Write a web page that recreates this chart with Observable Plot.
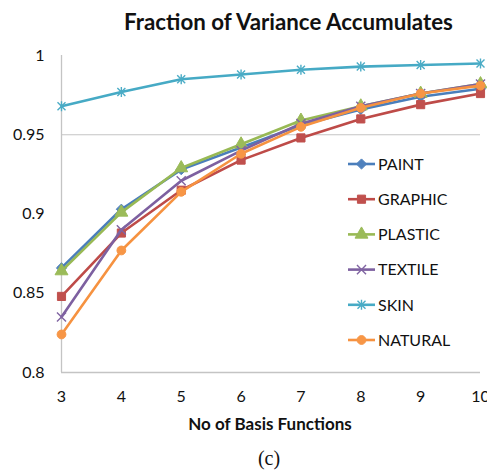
<!DOCTYPE html>
<html><head><meta charset="utf-8">
<script src="https://cdn.jsdelivr.net/npm/d3@7"></script>
<script src="https://cdn.jsdelivr.net/npm/@observablehq/plot@0.6"></script>
<style>
body{margin:0;background:#fff;}
#wrap{position:relative;width:487px;height:470px;overflow:hidden;background:#fff}
#wrap svg{position:absolute;left:0;top:0}
</style>
</head><body>
<div id="wrap"></div>
<script>
// ---- data ----
const basisFunctions = [3, 4, 5, 6, 7, 8, 9, 10];
const seriesNames = ["PAINT", "GRAPHIC", "PLASTIC", "TEXTILE", "SKIN", "NATURAL"];
const paint   = [0.866, 0.903, 0.928, 0.942, 0.956, 0.966, 0.974, 0.979];
const graphic = [0.848, 0.888, 0.915, 0.934, 0.948, 0.960, 0.969, 0.976];
const plastic = [0.864, 0.901, 0.929, 0.944, 0.959, 0.968, 0.976, 0.982];
const textile = [0.835, 0.890, 0.921, 0.940, 0.957, 0.968, 0.976, 0.982];
const skin    = [0.968, 0.977, 0.985, 0.988, 0.991, 0.993, 0.994, 0.995];
const natural = [0.824, 0.877, 0.914, 0.938, 0.955, 0.967, 0.976, 0.981];
const yTicks = [0.8, 0.85, 0.9, 0.95, 1];
const yTickLabels = ["0.8", "0.85", "0.9", "0.95", "1"];
const xTicks = [3, 4, 5, 6, 7, 8, 9, 10];
const gridLines = [0.95];
const titleText = "Fraction of Variance Accumulates";
const xTitle = "No of Basis Functions";
const captionText = "(c)";

// ---- styles ----
const seriesValues = [paint, graphic, plastic, textile, skin, natural];
const starSymbol = {
  draw(ctx, size) {
    const r = Math.sqrt(size / Math.PI);
    ctx.moveTo(0, -r); ctx.lineTo(0, r);
    const a = r * 0.8;
    ctx.moveTo(-a, -a); ctx.lineTo(a, a);
    ctx.moveTo(-a, a); ctx.lineTo(a, -a);
  }
};
const seriesStyle = {
  PAINT:   {line: "#4A7EBB", marker: "#4F81BD", symbol: d3.symbolDiamond2, r: 4.6, filled: true},
  GRAPHIC: {line: "#BE4B48", marker: "#C0504D", symbol: d3.symbolSquare, r: 4.6, filled: true},
  PLASTIC: {line: "#98B954", marker: "#9BBB59", symbol: d3.symbolTriangle, r: 4.8, filled: true},
  TEXTILE: {line: "#7D60A0", marker: "#8064A2", symbol: d3.symbolTimes, r: 4.2, filled: false},
  SKIN:    {line: "#46AAC5", marker: "#4BACC6", symbol: starSymbol, r: 5, filled: false},
  NATURAL: {line: "#F69240", marker: "#F79646", symbol: d3.symbolCircle, r: 4.4, filled: true}
};

const rows = seriesNames.flatMap((s, i) =>
  basisFunctions.map((x, j) => ({series: s, x, y: seriesValues[i][j]})));

const W = 487, H = 470;
const axisColor = "#c4c4c4";
const font = "Lato, 'Open Sans', sans-serif";

const seriesMarks = seriesNames.flatMap(s => {
  const st = seriesStyle[s];
  const data = rows.filter(d => d.series === s);
  return [
    Plot.line(data, {x: "x", y: "y", stroke: st.line, strokeWidth: 2.6}),
    Plot.dot(data, {x: "x", y: "y", symbol: () => st.symbol, r: st.r,
      fill: st.filled ? st.marker : "none", stroke: st.marker,
      strokeWidth: st.filled ? 1 : 1.4})
  ];
});

const chart = Plot.plot({
  width: W, height: H,
  marginTop: 55, marginBottom: 98, marginLeft: 61, marginRight: 7,
  style: {fontFamily: font, fontSize: "16px", color: "#111", background: "transparent"},
  x: {domain: [3, 10]},
  y: {domain: [0.8, 1]},
  symbol: {type: "identity"},
  marks: [
    Plot.ruleY(gridLines, {stroke: axisColor, strokeWidth: 1}),
    Plot.ruleX([xTicks[0]], {stroke: axisColor, strokeWidth: 1.3}),
    Plot.ruleY([yTicks[0]], {stroke: axisColor, strokeWidth: 1.3}),
    Plot.axisX({ticks: xTicks, tickSize: 0, tickPadding: 18, tickFormat: d => String(d), label: null}),
    Plot.axisY({ticks: yTicks, tickSize: 0, tickPadding: 17,
      tickFormat: d => yTickLabels[yTicks.indexOf(d)], label: null}),
    ...seriesMarks
  ]
});
document.getElementById("wrap").appendChild(chart);

// ---- overlay: title, axis title, caption, legend ----
const svg = d3.select("#wrap").append("svg").attr("width", W).attr("height", H)
  .style("font-family", font);
svg.append("text").attr("x", 288.5).attr("y", 30).attr("text-anchor", "middle")
  .attr("font-weight", "bold").attr("font-size", 22.3).attr("fill", "#111").text(titleText);
svg.append("text").attr("x", 270).attr("y", 430).attr("text-anchor", "middle")
  .attr("font-weight", "bold").attr("font-size", 17).attr("fill", "#111").text(xTitle);
svg.append("text").attr("x", 269).attr("y", 465).attr("text-anchor", "middle")
  .attr("font-family", "'Liberation Serif', 'DejaVu Serif', serif")
  .attr("font-size", 20).attr("fill", "#111").text(captionText);

const legendX0 = 348, legendX1 = 375, legendTop = 164, legendStep = 35.2;
seriesNames.forEach((s, i) => {
  const st = seriesStyle[s];
  const cy = legendTop + i * legendStep;
  const g = svg.append("g");
  g.append("line").attr("x1", legendX0).attr("x2", legendX1).attr("y1", cy).attr("y2", cy)
    .attr("stroke", st.line).attr("stroke-width", 2.6);
  g.append("path").attr("transform", `translate(${(legendX0 + legendX1) / 2},${cy})`)
    .attr("d", d3.symbol(st.symbol, st.r * st.r * Math.PI)())
    .attr("fill", st.filled ? st.marker : "none").attr("stroke", st.marker)
    .attr("stroke-width", st.filled ? 1 : 1.4);
  g.append("text").attr("x", legendX1 + 3).attr("y", cy).attr("dy", "0.36em")
    .attr("font-size", 16).attr("fill", "#111").text(s);
});
</script>
</body></html>
